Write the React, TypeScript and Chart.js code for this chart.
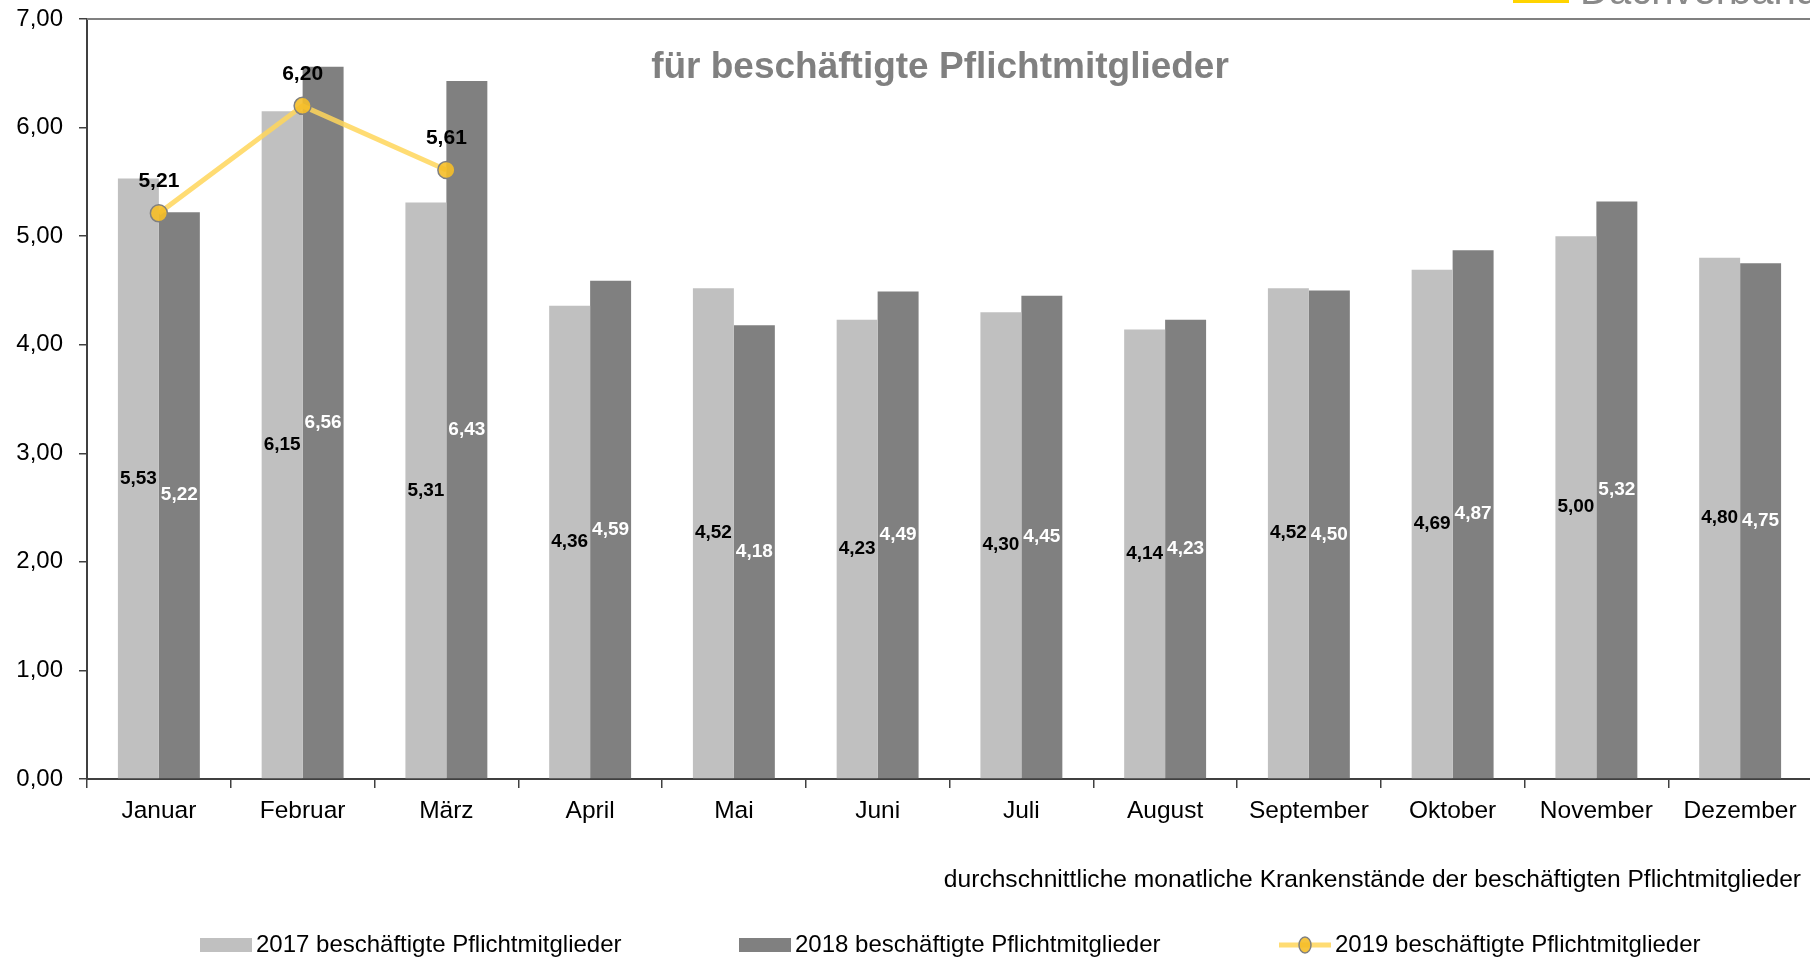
import React, { useEffect, useRef } from "react";
import { Chart, registerables } from "chart.js";

Chart.register(...registerables);

const months = ["Januar", "Februar", "März", "April", "Mai", "Juni", "Juli", "August", "September", "Oktober", "November", "Dezember"];
const values2017 = [5.53, 6.15, 5.31, 4.36, 4.52, 4.23, 4.30, 4.14, 4.52, 4.69, 5.00, 4.80];
const values2018 = [5.22, 6.56, 6.43, 4.59, 4.18, 4.49, 4.45, 4.23, 4.50, 4.87, 5.32, 4.75];
const values2019 = [5.21, 6.20, 5.61, null, null, null, null, null, null, null, null, null];
const seriesNames = ["2017 beschäftigte Pflichtmitglieder", "2018 beschäftigte Pflichtmitglieder", "2019 beschäftigte Pflichtmitglieder"];
const titleText = "für beschäftigte Pflichtmitglieder";
const subtitleText = "durchschnittliche monatliche Krankenstände der beschäftigten Pflichtmitglieder";
const logoText = "Dachverband";

const FONT = "'Liberation Sans', Arial, sans-serif";
const C2017 = "#C0C0C0";
const C2018 = "#808080";
const LINE = "rgba(255, 214, 90, 0.85)";
const POINT = "rgba(245, 190, 40, 0.9)";

const fmt = (v: number) => v.toFixed(2).replace(".", ",");

const decorPlugin = {
  id: "decor",
  afterDatasetsDraw(chart: any) {
    const ctx = chart.ctx as CanvasRenderingContext2D;
    ctx.save();
    // bar labels
    [0, 1].forEach((di) => {
      const meta = chart.getDatasetMeta(di);
      const ds = chart.data.datasets[di];
      ctx.font = `bold 19px ${FONT}`;
      ctx.textAlign = "center";
      ctx.textBaseline = "middle";
      ctx.fillStyle = di === 0 ? "#000" : "#fff";
      meta.data.forEach((el: any, i: number) => {
        const v = ds.data[i];
        if (v == null) return;
        ctx.fillText(fmt(v), el.x, (el.y + el.base) / 2);
      });
    });
    // line labels
    const lmeta = chart.getDatasetMeta(2);
    const lds = chart.data.datasets[2];
    ctx.font = `bold 21px ${FONT}`;
    ctx.fillStyle = "#000";
    lmeta.data.forEach((el: any, i: number) => {
      const v = lds.data[i];
      if (v == null) return;
      ctx.fillText(fmt(v), el.x, el.y - 32);
    });
    ctx.restore();
  },
  afterDraw(chart: any) {
    const ctx = chart.ctx as CanvasRenderingContext2D;
    const area = chart.chartArea;
    ctx.save();
    // top border
    ctx.strokeStyle = "#808080";
    ctx.lineWidth = 2;
    ctx.beginPath();
    ctx.moveTo(area.left, area.top);
    ctx.lineTo(chart.width, area.top);
    ctx.stroke();
    // title
    ctx.font = `bold 37px ${FONT}`;
    ctx.fillStyle = "#808080";
    ctx.textAlign = "center";
    ctx.textBaseline = "middle";
    ctx.fillText(titleText, 940, 68);
    // logo remnants
    ctx.fillStyle = "#FFD400";
    ctx.fillRect(1513, 0, 56, 3);
    ctx.font = `40px ${FONT}`;
    ctx.fillStyle = "#8a8a8a";
    ctx.textAlign = "left";
    ctx.textBaseline = "alphabetic";
    ctx.fillText(logoText, 1580, 4);
    // subtitle
    ctx.font = `24.6px ${FONT}`;
    ctx.fillStyle = "#000";
    ctx.textAlign = "right";
    ctx.textBaseline = "middle";
    ctx.fillText(subtitleText, 1801, 880);
    // legend
    const ly = 945;
    ctx.textAlign = "left";
    ctx.fillStyle = C2017;
    ctx.fillRect(200, ly - 7, 52, 14);
    ctx.fillStyle = C2018;
    ctx.fillRect(739, ly - 7, 52, 14);
    ctx.strokeStyle = LINE;
    ctx.lineWidth = 5;
    ctx.beginPath();
    ctx.moveTo(1279, ly);
    ctx.lineTo(1331, ly);
    ctx.stroke();
    ctx.beginPath();
    ctx.ellipse(1305, ly, 6, 8, 0, 0, Math.PI * 2);
    ctx.fillStyle = POINT;
    ctx.fill();
    ctx.strokeStyle = "#808080";
    ctx.lineWidth = 1.5;
    ctx.stroke();
    ctx.fillStyle = "#000";
    ctx.font = `24px ${FONT}`;
    ctx.fillText(seriesNames[0], 256, ly);
    ctx.fillText(seriesNames[1], 795, ly);
    ctx.fillText(seriesNames[2], 1335, ly);
    ctx.restore();
  },
};

const CANVAS_W = 1822;

export default function App() {
  const ref = useRef<HTMLCanvasElement | null>(null);
  useEffect(() => {
    document.body.style.margin = "0";
    document.body.style.overflow = "hidden";
    const canvas = ref.current!;
    const chart = new Chart(canvas, {
      type: "bar",
      data: {
        labels: months,
        datasets: [
          { type: "bar", label: seriesNames[0], data: values2017, backgroundColor: C2017, borderWidth: 0, order: 2, categoryPercentage: 0.57, barPercentage: 1 },
          { type: "bar", label: seriesNames[1], data: values2018, backgroundColor: C2018, borderWidth: 0, order: 2, categoryPercentage: 0.57, barPercentage: 1 },
          {
            type: "line", label: seriesNames[2], data: values2019 as any, borderColor: LINE, borderWidth: 5,
            pointRadius: 8.5, pointBackgroundColor: POINT, pointBorderColor: "#808080", pointBorderWidth: 1.5,
            tension: 0, spanGaps: false, order: 0,
          },
        ],
      },
      options: {
        responsive: false,
        animation: false,
        devicePixelRatio: 1,
        layout: { padding: { top: 19, right: 0, left: 0, bottom: 0 } },
        plugins: { legend: { display: false }, title: { display: false }, tooltip: { enabled: false } },
        scales: {
          x: {
            offset: true,
            grid: { offset: true, drawOnChartArea: false, drawTicks: true, tickLength: 9, color: "#404040", lineWidth: 1.5 },
            border: { color: "#404040", width: 2 },
            ticks: { font: { family: FONT, size: 24.5 }, color: "#000", padding: 9, maxRotation: 0, autoSkip: false },
            afterFit: (s: any) => { s.height = 181; s.paddingLeft = 0; s.paddingRight = 0; s.paddingTop = 0; s.paddingBottom = 0; },
          },
          y: {
            min: 0, max: 7,
            grid: { drawOnChartArea: false, drawTicks: true, tickLength: 8, color: "#404040", lineWidth: 1.5 },
            border: { color: "#404040", width: 2 },
            ticks: { stepSize: 1, font: { family: FONT, size: 24 }, color: "#000", padding: 16, callback: (v: any) => fmt(Number(v)) },
            afterFit: (s: any) => { s.width = 87; s.paddingTop = 0; s.paddingBottom = 0; s.paddingLeft = 0; s.paddingRight = 0; },
          },
        },
      },
      plugins: [decorPlugin],
    });
    return () => chart.destroy();
  }, []);
  return (
    <div style={{ width: 1810, height: 960, overflow: "hidden", position: "relative" }}>
      <canvas ref={ref} width={CANVAS_W} height={960} style={{ display: "block", width: CANVAS_W, height: 960 }} />
    </div>
  );
}
